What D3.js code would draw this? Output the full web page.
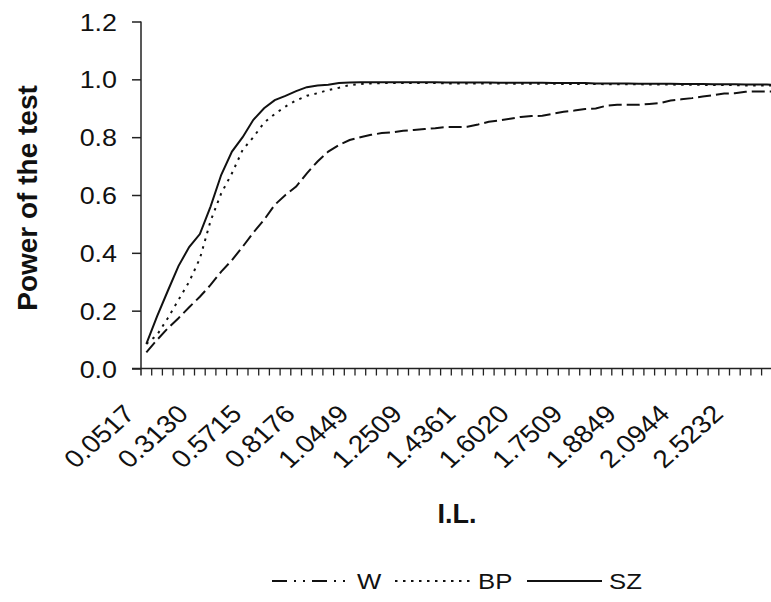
<!DOCTYPE html>
<html>
<head>
<meta charset="utf-8">
<script src="https://cdn.jsdelivr.net/npm/d3@7"></script>
<style>
  body { margin: 0; background: #fff; }
  svg { display: block; }
  text { font-family: "Liberation Sans", Arial, sans-serif; fill: #111; }
</style>
</head>
<body>
<svg id="chart" width="771" height="602"></svg>
<script>
// categories on the x axis (I.L. values), only every 5th one is labelled
var categories = d3.range(60);
var tickLabels = ["0.0517", "0.3130", "0.5715", "0.8176", "1.0449", "1.2509",
    "1.4361", "1.6020", "1.7509", "1.8849", "2.0944", "2.5232"];
var yTicks = [0, 0.2, 0.4, 0.6, 0.8, 1.0, 1.2];

// power of the test
var seriesW = [0.056, 0.099, 0.139, 0.174, 0.212, 0.248, 0.289, 0.335, 0.375, 0.421,
    0.470, 0.514, 0.566, 0.600, 0.629, 0.675, 0.716, 0.750, 0.773, 0.790,
    0.800, 0.808, 0.814, 0.817, 0.822, 0.825, 0.828, 0.831, 0.835, 0.835,
    0.836, 0.844, 0.853, 0.858, 0.864, 0.870, 0.873, 0.874, 0.881, 0.888,
    0.892, 0.897, 0.899, 0.909, 0.912, 0.912, 0.912, 0.915, 0.918, 0.927,
    0.931, 0.935, 0.941, 0.945, 0.951, 0.952, 0.957, 0.958, 0.958, 0.958];
var seriesBP = [0.085, 0.116, 0.174, 0.237, 0.300, 0.380, 0.510, 0.606, 0.675, 0.756,
    0.800, 0.850, 0.880, 0.906, 0.927, 0.943, 0.952, 0.963, 0.971, 0.980,
    0.984, 0.986, 0.987, 0.987, 0.987, 0.987, 0.987, 0.987, 0.986, 0.986,
    0.986, 0.986, 0.986, 0.986, 0.985, 0.985, 0.985, 0.985, 0.985, 0.984,
    0.984, 0.984, 0.984, 0.983, 0.983, 0.983, 0.983, 0.982, 0.982, 0.982,
    0.981, 0.981, 0.981, 0.980, 0.980, 0.980, 0.979, 0.979, 0.979, 0.978];
var seriesSZ = [0.085, 0.180, 0.268, 0.354, 0.420, 0.465, 0.560, 0.670, 0.750, 0.800,
    0.860, 0.900, 0.928, 0.943, 0.959, 0.973, 0.979, 0.981, 0.987, 0.989,
    0.990, 0.990, 0.990, 0.990, 0.990, 0.990, 0.990, 0.990, 0.989, 0.989,
    0.989, 0.989, 0.989, 0.988, 0.988, 0.988, 0.988, 0.988, 0.987, 0.987,
    0.987, 0.987, 0.986, 0.986, 0.986, 0.986, 0.985, 0.985, 0.985, 0.985,
    0.984, 0.984, 0.984, 0.983, 0.983, 0.983, 0.982, 0.982, 0.982, 0.981];

var seriesNames = ["W", "BP", "SZ"];

var svg = d3.select("#chart");
svg.append("rect").attr("width", 771).attr("height", 602).attr("fill", "#fff");

var plotLeft = 141, plotTop = 21.5, plotBottom = 368.5, bandW = 10.7;
var stretch = 1.12; // text in the scan is a bit wider than tall

var xScale = d3.scaleBand()
    .domain(categories)
    .range([plotLeft, plotLeft + bandW * categories.length])
    .paddingInner(0).paddingOuter(0);

var yScale = d3.scaleLinear()
    .domain([0, 1.2])
    .range([plotBottom, plotTop]);

// y axis
var yAxis = d3.axisLeft(yScale)
    .tickValues(yTicks)
    .tickSize(9)
    .tickFormat(d3.format(".1f"));

var yGroup = svg.append("g")
    .attr("class", "axis y-axis")
    .attr("transform", "translate(" + plotLeft + ",0)")
    .call(yAxis);
yGroup.select(".domain").remove();
yGroup.append("line")
    .attr("x1", 0).attr("x2", 0)
    .attr("y1", plotTop).attr("y2", plotBottom + 7)
    .attr("stroke", "#222").attr("stroke-width", 1.5);
yGroup.selectAll(".tick line").attr("stroke", "#222").attr("stroke-width", 1.5);
yGroup.selectAll(".tick text")
    .attr("font-size", 24)
    .attr("font-family", "'Liberation Sans', Arial, sans-serif")
    .attr("fill", "#111")
    .attr("dy", "0.36em")
    .attr("x", null)
    .attr("transform", "translate(-24,0) scale(" + stretch + ",1)");

// x axis: ticks on category boundaries
var xGroup = svg.append("g").attr("class", "axis x-axis");
xGroup.append("line")
    .attr("x1", plotLeft - 9).attr("x2", 771)
    .attr("y1", plotBottom).attr("y2", plotBottom)
    .attr("stroke", "#222").attr("stroke-width", 1.5);
xGroup.selectAll(".xtick")
    .data(categories.slice(1))
    .enter()
    .append("line")
    .attr("class", "xtick")
    .attr("x1", function (d) { return xScale(d); })
    .attr("x2", function (d) { return xScale(d); })
    .attr("y1", plotBottom)
    .attr("y2", plotBottom + 7)
    .attr("stroke", "#222").attr("stroke-width", 1.3);

xGroup.selectAll(".xlabel")
    .data(tickLabels)
    .enter()
    .append("text")
    .attr("class", "xlabel")
    .attr("font-size", 25)
    .attr("text-anchor", "end")
    .attr("transform", function (d, i) {
        var cx = xScale(categories[i * 5]) + xScale.bandwidth() / 2;
        return "translate(" + (cx - 10) + "," + (plotBottom + 47) + ") scale(" + stretch + ",1) rotate(-45)";
    })
    .text(function (d) { return d; });

// titles
svg.append("text")
    .attr("text-anchor", "middle")
    .attr("font-size", 28)
    .attr("font-weight", "bold")
    .attr("transform", "translate(37,198) rotate(-90)")
    .text("Power of the test");

svg.append("text")
    .attr("text-anchor", "middle")
    .attr("font-size", 27)
    .attr("font-weight", "bold")
    .attr("x", 457)
    .attr("y", 523)
    .text("I.L.");

// lines
var dashes = { W: "15,7,2,7,2,7", BP: "2.5,5.5", SZ: null };
var seriesData = { W: seriesW, BP: seriesBP, SZ: seriesSZ };

var line = d3.line()
    .x(function (d, i) { return xScale(categories[i]) + xScale.bandwidth() / 2; })
    .y(function (d) { return yScale(d); });

svg.append("g")
    .selectAll(".series")
    .data(seriesNames)
    .enter()
    .append("path")
    .attr("class", "series")
    .attr("d", function (d) { return line(seriesData[d]); })
    .attr("fill", "none")
    .attr("stroke", "#111")
    .attr("stroke-width", 2)
    .attr("stroke-dasharray", function (d) { return d == "W" ? "13,5" : dashes[d]; });

// legend
var legendItems = [
    { name: "W", x1: 272, x2: 347, tx: 357 },
    { name: "BP", x1: 395, x2: 470, tx: 478 },
    { name: "SZ", x1: 527, x2: 602, tx: 609 }
];
var legend = svg.append("g").attr("class", "legend");
legend.selectAll("line")
    .data(legendItems)
    .enter()
    .append("line")
    .attr("x1", function (d) { return d.x1; })
    .attr("x2", function (d) { return d.x2; })
    .attr("y1", 581).attr("y2", 581)
    .attr("stroke", "#111")
    .attr("stroke-width", 2)
    .attr("stroke-dasharray", function (d) { return dashes[d.name]; });
legend.selectAll("text")
    .data(legendItems)
    .enter()
    .append("text")
    .attr("font-size", 23)
    .attr("transform", function (d) { return "translate(" + d.tx + ",589) scale(" + stretch + ",1)"; })
    .text(function (d) { return d.name; });
</script>
</body>
</html>
